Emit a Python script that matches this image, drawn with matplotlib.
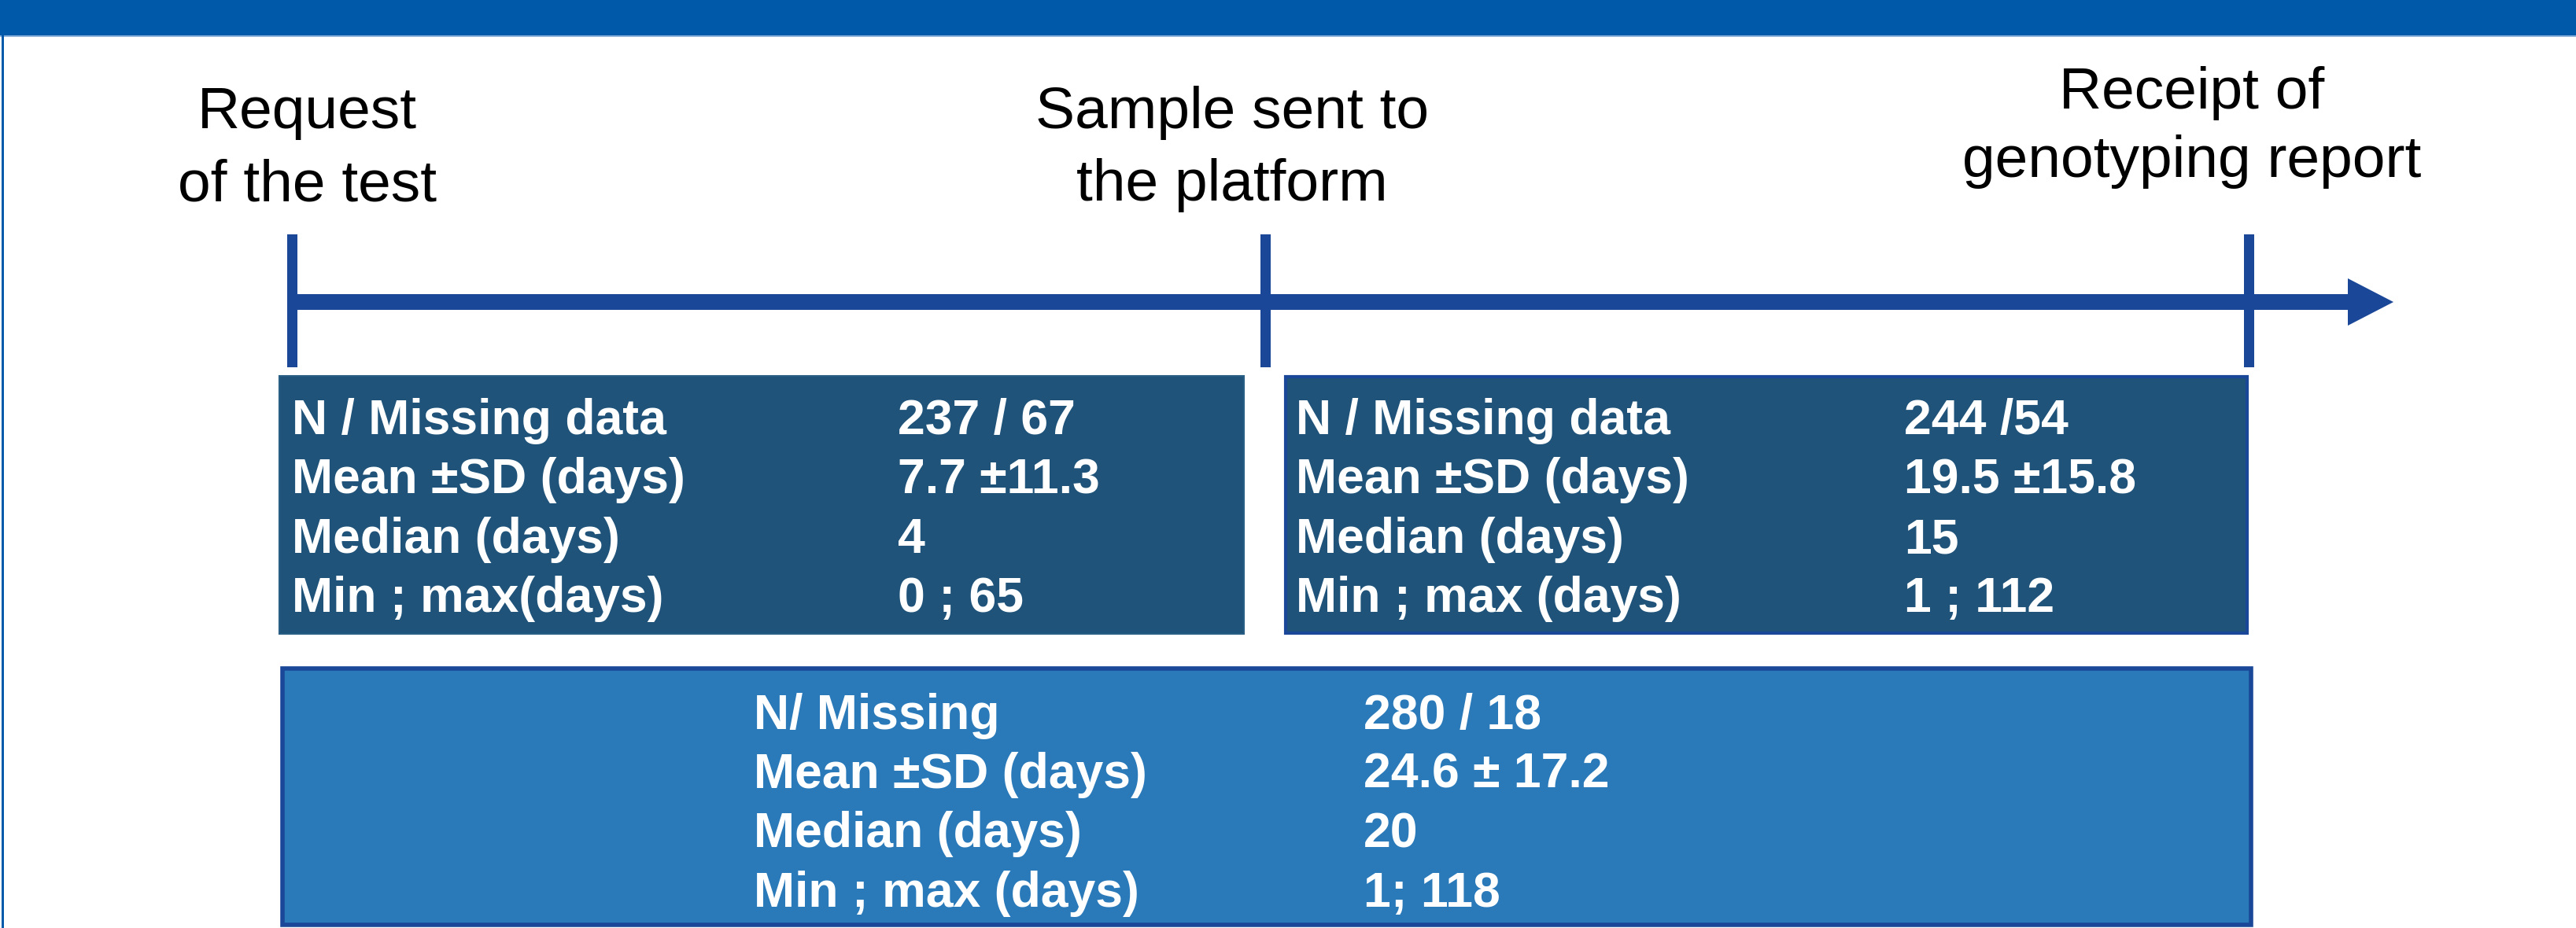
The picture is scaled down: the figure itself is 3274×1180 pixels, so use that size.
import matplotlib
matplotlib.use("Agg")
import matplotlib.pyplot as plt
from matplotlib.patches import Rectangle, Polygon

# ---- data ----
stage_line1 = ["Request", "Sample sent to", "Receipt of"]
stage_line2 = ["of the test", "the platform", "genotyping report"]

box1_labels = ["N / Missing data", "Mean \u00b1SD (days)", "Median (days)", "Min ; max(days)"]
box1_values = ["237 / 67", "7.7 \u00b111.3", "4", "0 ; 65"]

box2_labels = ["N / Missing data", "Mean \u00b1SD (days)", "Median (days)", "Min ; max (days)"]
box2_values = ["244 /54", "19.5 \u00b115.8", "15", "1 ; 112"]

box3_labels = ["N/ Missing", "Mean \u00b1SD (days)", "Median (days)", "Min ; max (days)"]
box3_values = ["280 / 18", "24.6 \u00b1 17.2", "20", "1; 118"]

# ---- layout (pixel coordinates) ----
W, H = 3274, 1180
fig = plt.figure(figsize=(W / 100, H / 100), dpi=100)
ax = fig.add_axes([0, 0, 1, 1])
ax.set_xlim(0, W)
ax.set_ylim(H, 0)
ax.axis("off")

BANNER = "#005aa9"
LINE = "#1a4797"
DARK = "#1f5379"
LIGHT = "#2a7aba"
FONT = "Liberation Sans"

# banner + left frame
ax.add_patch(Rectangle((0, 0), W, 45, facecolor=BANNER, edgecolor="none"))
ax.add_patch(Rectangle((0, 45), W, 2, facecolor="#8fb4dc", edgecolor="none"))
ax.add_patch(Rectangle((2, 45), 3, H - 45, facecolor=BANNER, edgecolor="none"))

# timeline
ty, th = 384, 20
ax.add_patch(Rectangle((365, ty - th / 2), 2985 - 365, th, facecolor=LINE, edgecolor="none"))
ax.add_patch(Polygon([(2984, ty - 30), (3042, ty), (2984, ty + 30)], closed=True,
                     facecolor=LINE, edgecolor="none"))
tick_x = [371, 1608, 2858]
for x in tick_x:
    ax.add_patch(Rectangle((x - 6.5, 298), 13, 467 - 298, facecolor=LINE, edgecolor="none"))

# stage labels
stage_cx = [390, 1566, 2786]
stage_b1 = [163, 163, 138]
stage_b2 = [255, 255, 225]
for cx, b1, b2, l1, l2 in zip(stage_cx, stage_b1, stage_b2, stage_line1, stage_line2):
    ax.text(cx, b1, l1, ha="center", va="baseline", fontsize=54, family=FONT, color="black")
    ax.text(cx, b2, l2, ha="center", va="baseline", fontsize=54, family=FONT, color="black")

# boxes
ax.add_patch(Rectangle((355, 478), 1581 - 355, 806 - 478, facecolor=DARK, edgecolor="#2a5f85", linewidth=1.5))
ax.add_patch(Rectangle((1634, 479), 2856 - 1634, 805 - 479, facecolor=DARK, edgecolor=LINE, linewidth=3))
ax.add_patch(Rectangle((359, 850), 2861 - 359, 1176 - 850, facecolor=LIGHT, edgecolor=LINE, linewidth=4))

def draw_rows(labels, values, lx, vx, baselines):
    for lab, val, b in zip(labels, values, baselines):
        ax.text(lx, b, lab, ha="left", va="baseline", fontsize=45, family=FONT,
                fontweight="bold", color="white")
        ax.text(vx, b, val, ha="left", va="baseline", fontsize=45, family=FONT,
                fontweight="bold", color="white")

top_rows = [552, 627, 703, 778]
draw_rows(box1_labels, box1_values, 371, 1141, top_rows)
draw_rows(box2_labels, box2_values, 1647, 2420, top_rows)
draw_rows(box3_labels, box3_values, 958, 1733, [927, 1002, 1077, 1153])

fig.savefig("out.png", dpi=100, facecolor="white")
